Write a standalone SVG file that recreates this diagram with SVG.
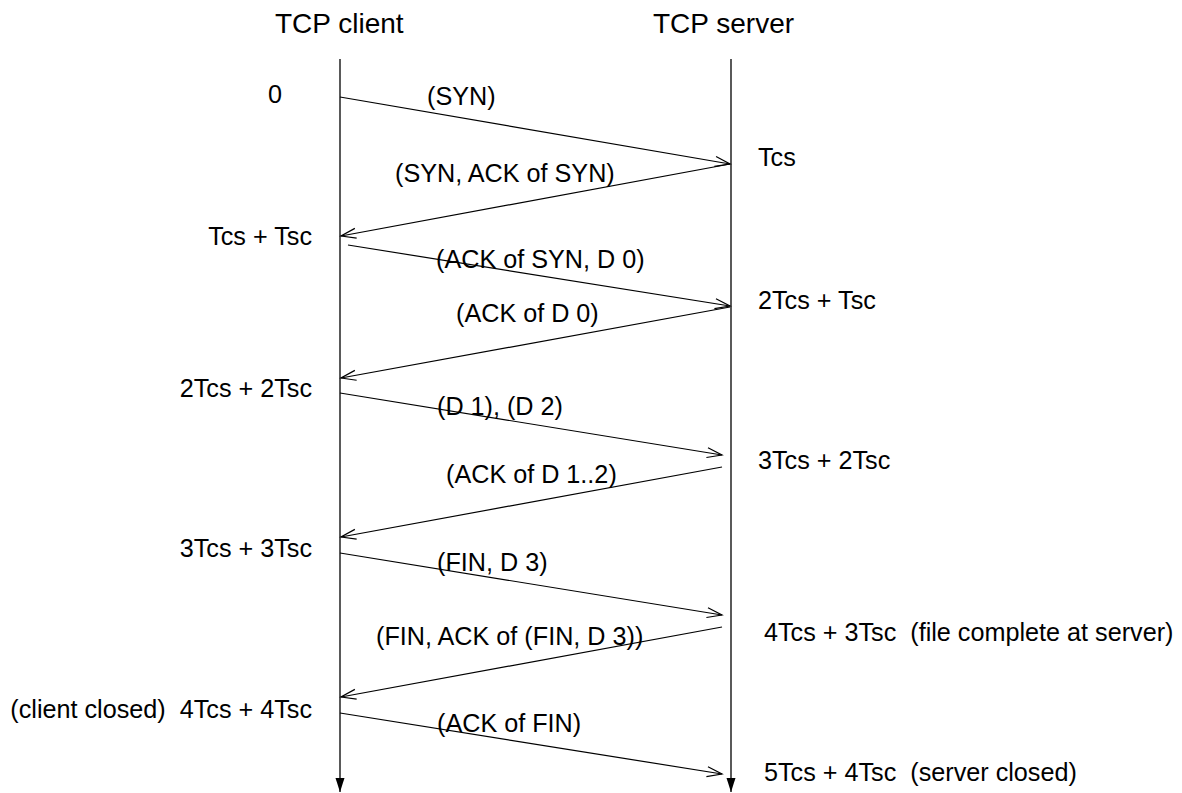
<svg xmlns="http://www.w3.org/2000/svg" width="1182" height="793" viewBox="0 0 1182 793">
  <style>
    text { font-family: "Liberation Sans", Arial, sans-serif; fill: #000; }
    .title { font-size: 28px; }
    .lbl { font-size: 25.2px; }
    .end { text-anchor: end; }
    .life { stroke: #000; stroke-width: 1.3; fill: none; marker-end: url(#lifeEnd); }
    .msg { stroke: #000; stroke-width: 1.2; fill: none; marker-end: url(#open); }
  </style>
  <defs>
    <marker id="open" markerUnits="userSpaceOnUse" markerWidth="20" markerHeight="20" viewBox="0 -10 20 20" refX="16" refY="0" orient="auto" overflow="visible">
      <path d="M1,-5 L16,0 L1,5" fill="none" stroke="#000" stroke-width="1.2"/>
    </marker>
    <marker id="lifeEnd" markerUnits="userSpaceOnUse" markerWidth="20" markerHeight="20" viewBox="0 -10 20 20" refX="14" refY="0" orient="auto" overflow="visible">
      <path d="M0,-4.5 L14,0 L0,4.5 Z" fill="#000"/>
    </marker>
  </defs>
  <rect width="1182" height="793" fill="#fff"/>

  <!-- client lifeline -->
  <g id="client">
    <text class="title" x="275" y="33">TCP client</text>
    <line class="life" x1="340" y1="59" x2="340" y2="792"/>
    <text class="lbl" x="268" y="103">0</text>
    <text class="lbl end" x="312" y="245">Tcs + Tsc</text>
    <text class="lbl end" x="312" y="397">2Tcs + 2Tsc</text>
    <text class="lbl end" x="312" y="557">3Tcs + 3Tsc</text>
    <text class="lbl end" x="312" y="718" xml:space="preserve">(client closed)  4Tcs + 4Tsc</text>
  </g>

  <!-- server lifeline -->
  <g id="server">
    <text class="title" x="653" y="33">TCP server</text>
    <line class="life" x1="731" y1="59" x2="731" y2="792"/>
    <text class="lbl" x="758" y="166">Tcs</text>
    <text class="lbl" x="758" y="309">2Tcs + Tsc</text>
    <text class="lbl" x="758" y="469">3Tcs + 2Tsc</text>
    <text class="lbl" x="764" y="641" xml:space="preserve">4Tcs + 3Tsc  (file complete at server)</text>
    <text class="lbl" x="764" y="781" xml:space="preserve">5Tcs + 4Tsc  (server closed)</text>
  </g>

  <!-- segments exchanged -->
  <g id="connectors">
    <path class="msg" d="M340,97 L730,164"/>
    <path class="msg" d="M730,164 L341,236"/>
    <path class="msg" d="M348,245 L730,306"/>
    <path class="msg" d="M730,307 L341,378"/>
    <path class="msg" d="M340,393 L722,455"/>
    <path class="msg" d="M722,467 L341,537"/>
    <path class="msg" d="M340,553 L722,615"/>
    <path class="msg" d="M722,627 L341,697"/>
    <path class="msg" d="M340,713 L722,774"/>

    <text class="lbl" x="427" y="105">(SYN)</text>
    <text class="lbl" x="395" y="182">(SYN, ACK of SYN)</text>
    <text class="lbl" x="436" y="268">(ACK of SYN, D 0)</text>
    <text class="lbl" x="456" y="322">(ACK of D 0)</text>
    <text class="lbl" x="437" y="415">(D 1), (D 2)</text>
    <text class="lbl" x="446" y="483">(ACK of D 1..2)</text>
    <text class="lbl" x="437" y="571">(FIN, D 3)</text>
    <text class="lbl" x="376" y="645">(FIN, ACK of (FIN, D 3))</text>
    <text class="lbl" x="437" y="732">(ACK of FIN)</text>
  </g>
</svg>
